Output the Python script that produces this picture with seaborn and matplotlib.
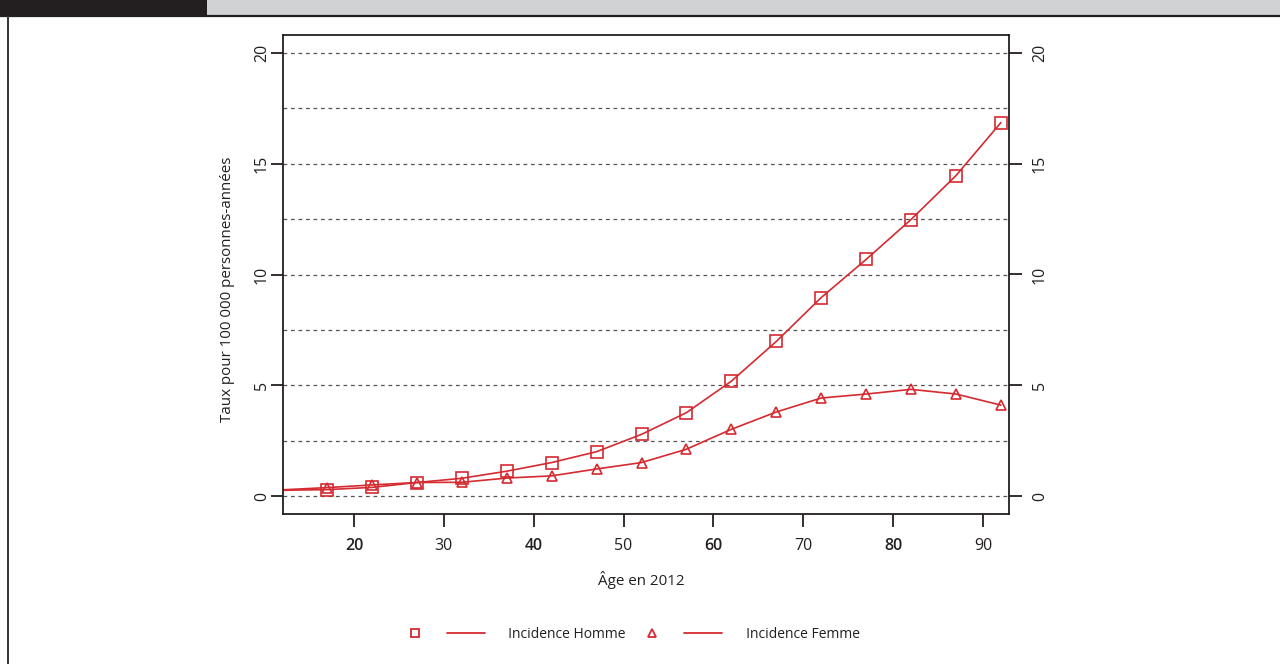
import matplotlib
matplotlib.use("Agg")
import matplotlib.pyplot as plt
import pandas as pd
import seaborn as sns
from matplotlib.lines import Line2D
from matplotlib.patches import Rectangle
from matplotlib.ticker import MultipleLocator


# curve starts at the left edge (age 12); markers from age 17 on
AGES = [12, 17, 22, 27, 32, 37, 42, 47, 52, 57, 62, 67, 72, 77, 82, 87, 92]
HOMME = [0.27, 0.30, 0.40, 0.62, 0.81, 1.13, 1.52, 2.01, 2.79, 3.77, 5.19,
         6.98, 8.96, 10.68, 12.48, 14.46, 16.85]
FEMME = [0.29, 0.39, 0.51, 0.62, 0.63, 0.82, 0.92, 1.23, 1.52, 2.12, 3.02,
         3.80, 4.43, 4.61, 4.82, 4.61, 4.11]
LABELS = ["Incidence Homme", "Incidence Femme"]
X_TICKS = [20, 30, 40, 50, 60, 70, 80, 90]
Y_TICKS = [0, 5, 10, 15, 20]

RED = "#d42a30"
INK = "#231f20"
FONT = ["Open Sans", "DejaVu Sans"]


def main() -> None:
    sns.set_style("ticks")
    plt.rcParams["font.family"] = FONT
    plt.rcParams["font.size"] = 10

    df = pd.DataFrame({"age": AGES, "homme": HOMME, "femme": FEMME})

    fig = plt.figure(figsize=(12.8, 6.64), dpi=100)
    fig.patch.set_facecolor("white")

    # header band + frame line
    fig.add_artist(Rectangle((0, 1 - 15 / 664), 207 / 1280, 15 / 664,
                             transform=fig.transFigure, color=INK, lw=0))
    fig.add_artist(Rectangle((207 / 1280, 1 - 15 / 664), 1 - 207 / 1280, 15 / 664,
                             transform=fig.transFigure, color="#d1d2d4", lw=0))
    fig.add_artist(Line2D([0, 1], [1 - 16 / 664] * 2, transform=fig.transFigure,
                          color=INK, lw=1.6))
    fig.add_artist(Line2D([7.5 / 1280] * 2, [0, 1 - 16 / 664], transform=fig.transFigure,
                          color="#333333", lw=1.4))

    ax = fig.add_axes([283 / 1280, 1 - 514 / 664, 726 / 1280, 479 / 664])
    marks = list(range(1, len(AGES)))
    sns.lineplot(data=df, x="age", y="homme", ax=ax, color=RED, lw=1.2,
                 marker="s", markersize=8, markerfacecolor="none",
                 markeredgecolor=RED, markeredgewidth=1.2, markevery=marks)
    sns.lineplot(data=df, x="age", y="femme", ax=ax, color=RED, lw=1.2,
                 marker="^", markersize=7.5, markerfacecolor="none",
                 markeredgecolor=RED, markeredgewidth=1.2, markevery=marks)

    ax.set_xlim(12.1, 92.9)
    ax.set_ylim(-0.8, 20.8)
    ax.set_xticks(X_TICKS)
    ax.set_yticks(Y_TICKS)
    ax.yaxis.set_minor_locator(MultipleLocator(2.5))
    ax.yaxis.grid(True, which="both", color="#555555", lw=0.9, ls=(0, (3, 3)))
    ax.set_axisbelow(True)

    for s in ax.spines.values():
        s.set_visible(True)
        s.set_color(INK)
        s.set_linewidth(1.3)
    ax.tick_params(axis="both", which="major", length=9, width=1.3, color=INK,
                   labelsize=11.5, labelcolor=INK)
    ax.tick_params(axis="y", which="minor", length=0)
    ax.tick_params(axis="x", pad=8.5)
    ax.tick_params(axis="y", pad=0.5)
    for lab in ax.get_yticklabels():
        lab.set_rotation(90)
        lab.set_va("center")
    for lab, v in zip(ax.get_xticklabels(), X_TICKS):
        if v % 20 == 0:
            lab.set_fontweight("semibold")

    ax2 = ax.twinx()
    ax2.set_ylim(ax.get_ylim())
    ax2.set_yticks(Y_TICKS)
    ax2.tick_params(axis="y", length=9, width=1.3, color=INK, labelsize=11.5,
                    labelcolor=INK, pad=7.5)
    for s in ax2.spines.values():
        s.set_visible(False)
    for lab in ax2.get_yticklabels():
        lab.set_rotation(90)
        lab.set_va("center")

    ax.set_xlabel("Âge en 2012", fontsize=10.9, color=INK)
    ax.set_ylabel("Taux pour 100 000 personnes-années", fontsize=10.9, color=INK)
    ax.xaxis.set_label_coords(0.493, -0.119)
    ax.yaxis.set_label_coords(-0.066, 0.47)

    handles = [
        Line2D([], [], ls="none", marker="s", markersize=6, markerfacecolor="none",
               markeredgecolor=RED, markeredgewidth=1.3),
        Line2D([], [], color=RED, lw=1.3),
        Line2D([], [], ls="none", marker="^", markersize=6, markerfacecolor="none",
               markeredgecolor=RED, markeredgewidth=1.3),
        Line2D([], [], color=RED, lw=1.3),
    ]
    pad = "     "
    fig.legend(handles, ["", pad + LABELS[0], "", pad + LABELS[1]], ncol=4,
               frameon=False, loc="center",
               bbox_to_anchor=(628 / 1280, 1 - 634 / 664),
               fontsize=10, handlelength=2.7, handletextpad=0.43,
               columnspacing=0.54, labelcolor=INK)

    fig.savefig("out.png", dpi=100)
    plt.close(fig)


if __name__ == "__main__":
    main()
